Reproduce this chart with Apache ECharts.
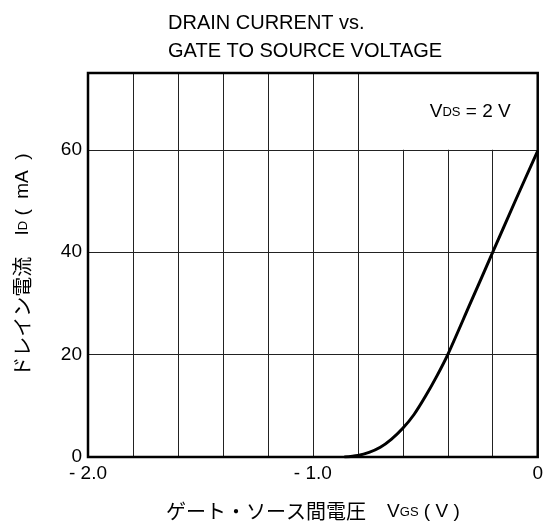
<!DOCTYPE html>
<html>
<head>
<meta charset="utf-8">
<script src="https://cdn.jsdelivr.net/npm/echarts@6/dist/echarts.min.js"></script>
<style>
html, body { margin: 0; padding: 0; background: #fff; }
#main { width: 546px; height: 530px; }
</style>
</head>
<body>
<div id="main"></div>
<script>
// Vgs (V) / Id (mA)
var vgs = [-0.86, -0.8, -0.75, -0.7, -0.65, -0.6, -0.55, -0.5, -0.45, -0.4, -0.3, -0.2, -0.1, 0];
var idCur = [0, 0.3, 0.9, 1.9, 3.5, 5.6, 8.3, 11.8, 15.7, 20, 30, 40, 50, 59.8];
// x tick labels (only these are printed)
var xTickLabels = { '-2': '- 2.0', '-1': '- 1.0', '0': '0' };
var yTicks = [0, 20, 40, 60];
// the white box holding the VDS note
var noteBox = [[-0.6, 60], [0, 75]];

var latin = 'Liberation Sans';
var cjk = 'Noto Sans CJK JP';

var chart = echarts.init(document.getElementById('main'));

var points = [];
for (var i = 0; i < vgs.length; i++) {
    points.push([vgs[i], idCur[i]]);
}

var option = {
    backgroundColor: '#fff',
    animation: false,
    title: {
        text: 'DRAIN CURRENT vs.\nGATE TO SOURCE VOLTAGE',
        left: 163,
        top: 4,
        textStyle: {
            fontFamily: latin,
            fontSize: 20,
            fontWeight: 'normal',
            lineHeight: 28,
            color: '#000'
        }
    },
    grid: {
        left: 88,
        right: 8,
        top: 73,
        bottom: 73,
        show: true,
        borderColor: '#000',
        borderWidth: 2.5,
        z: 10
    },
    xAxis: {
        type: 'value',
        min: -2,
        max: 0,
        interval: 0.2,
        axisLine: { show: false },
        axisTick: { show: false },
        splitLine: { show: true, lineStyle: { color: '#222', width: 1 } },
        axisLabel: {
            margin: 7,
            fontFamily: latin,
            fontSize: 19,
            color: '#000',
            formatter: function (v) {
                var k = String(Math.round(v * 10) / 10);
                return xTickLabels[k] !== undefined ? xTickLabels[k] : '';
            }
        },
        name: '{j|ゲート・ソース間電圧}{l|    V}{s|GS}{l| ( V )}',
        nameLocation: 'middle',
        nameGap: 44,
        nameTextStyle: {
            color: '#000',
            rich: {
                j: { fontFamily: cjk, fontSize: 20, color: '#000', verticalAlign: 'bottom' },
                l: { fontFamily: latin, fontSize: 19, color: '#000', verticalAlign: 'bottom' },
                s: { fontFamily: latin, fontSize: 13, color: '#000', verticalAlign: 'bottom', padding: [0, 0, 2, 0] }
            }
        }
    },
    yAxis: {
        type: 'value',
        min: 0,
        max: 75,
        interval: 20,
        axisLine: { show: false },
        axisTick: { show: false },
        splitLine: { show: true, lineStyle: { color: '#222', width: 1 } },
        axisLabel: {
            margin: 6,
            fontFamily: latin,
            fontSize: 19,
            color: '#000',
            formatter: function (v) {
                return yTicks.indexOf(v) >= 0 ? String(v) : '';
            }
        },
        name: '{j|ドレイン電流}{l|    I}{s|D}{l| (  mA  )}',
        nameLocation: 'middle',
        nameGap: 56,
        nameTextStyle: {
            color: '#000',
            rich: {
                j: { fontFamily: cjk, fontSize: 20, color: '#000', verticalAlign: 'bottom' },
                l: { fontFamily: latin, fontSize: 19, color: '#000', verticalAlign: 'bottom' },
                s: { fontFamily: latin, fontSize: 13, color: '#000', verticalAlign: 'bottom', padding: [0, 0, 2, 0] }
            }
        }
    },
    series: [
        {
            type: 'line',
            data: points,
            smooth: 0.3,
            showSymbol: false,
            lineStyle: { color: '#000', width: 3 },
            markArea: {
                silent: true,
                itemStyle: { color: '#fff' },
                label: {
                    show: true,
                    position: 'inside',
                    formatter: '{l|V}{s|DS}{l| = 2 V}',
                    rich: {
                        l: { fontFamily: latin, fontSize: 19, color: '#000', verticalAlign: 'bottom' },
                        s: { fontFamily: latin, fontSize: 13, color: '#000', verticalAlign: 'bottom', padding: [0, 0, 2, 0] }
                    }
                },
                data: [[{ coord: noteBox[0] }, { coord: noteBox[1] }]]
            }
        }
    ]
};

chart.setOption(option);
</script>
</body>
</html>
